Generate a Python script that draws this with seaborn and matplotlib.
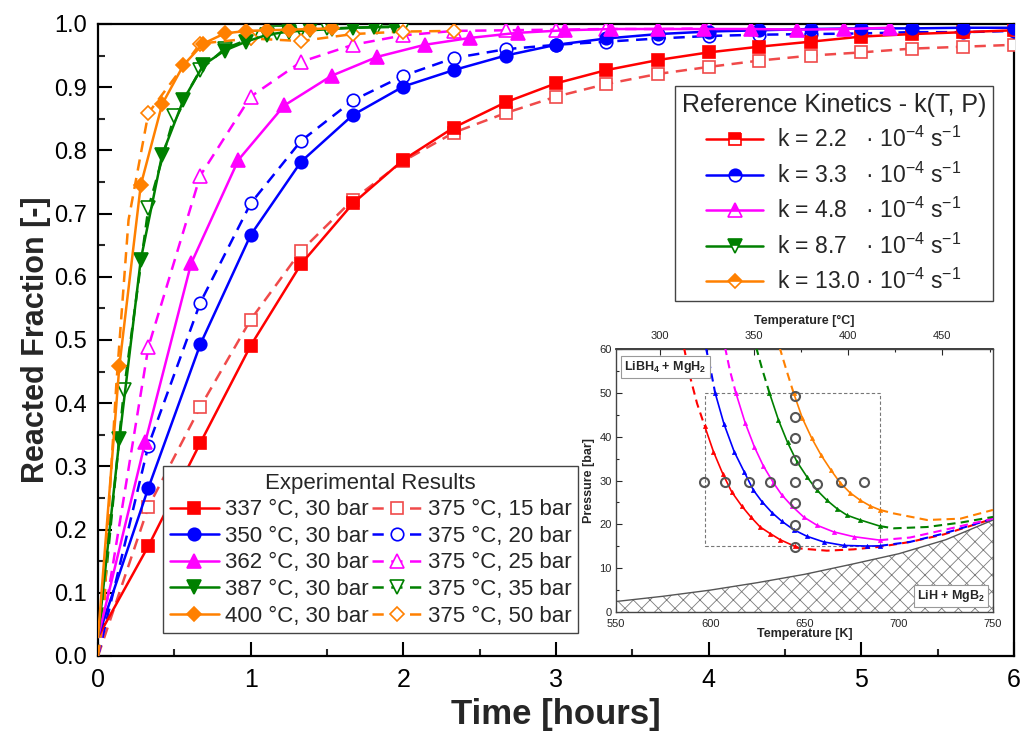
import matplotlib
matplotlib.use("Agg")
import matplotlib.pyplot as plt
import seaborn as sns
from matplotlib.lines import Line2D
from matplotlib.patches import Rectangle
from matplotlib.ticker import MultipleLocator, FixedLocator

# ---------------- data: main panel (time [h], reacted fraction) ----------------
t_thirds = [0.0, 0.33, 0.67, 1.0, 1.33, 1.67, 2.0, 2.33, 2.67, 3.0, 3.33, 3.67,
            4.0, 4.33, 4.67, 5.0, 5.33, 5.67, 6.0]
f_337 = [0.03, 0.174, 0.337, 0.491, 0.620, 0.716, 0.785, 0.836, 0.876, 0.906, 0.927,
         0.943, 0.955, 0.964, 0.972, 0.980, 0.984, 0.987, 0.990]
f_350 = [0.03, 0.266, 0.493, 0.666, 0.782, 0.856, 0.901, 0.927, 0.950, 0.967, 0.977,
         0.984, 0.988, 0.990, 0.992, 0.993, 0.993, 0.994, 0.994]
t_362 = [0.0, 0.31, 0.61, 0.92, 1.22, 1.53, 1.83, 2.14, 2.44, 2.75, 3.06, 3.36, 3.67,
         3.97, 4.28, 4.58, 4.89, 5.19]
f_362 = [0.03, 0.339, 0.621, 0.785, 0.871, 0.918, 0.948, 0.967, 0.978, 0.986, 0.990,
         0.992, 0.992, 0.992, 0.992, 0.991, 0.992, 0.994]
t_387 = [0.0, 0.14, 0.28, 0.42, 0.56, 0.69, 0.83, 0.97, 1.11, 1.25, 1.39, 1.53, 1.67,
         1.81, 1.94]
f_387 = [0.03, 0.343, 0.627, 0.793, 0.880, 0.935, 0.958, 0.972, 0.983, 0.988, 0.990,
         0.992, 0.994, 0.995, 0.996]
t_400 = [0.0, 0.14, 0.28, 0.42, 0.56, 0.69, 0.83, 0.97, 1.11, 1.25, 1.39, 1.53]
f_400 = [0.03, 0.459, 0.745, 0.873, 0.935, 0.969, 0.985, 0.989, 0.990, 0.991, 0.992, 0.993]

f_15 = [0.0, 0.236, 0.394, 0.532, 0.641, 0.722, 0.783, 0.828, 0.859, 0.885, 0.905,
        0.921, 0.932, 0.942, 0.950, 0.955, 0.961, 0.964, 0.967]
f_20 = [0.0, 0.333, 0.559, 0.716, 0.815, 0.879, 0.918, 0.946, 0.960, 0.967, 0.972,
        0.977, 0.981, 0.983, 0.984, 0.985, 0.987, 0.987, 0.989]
t_25 = [0.0, 0.33, 0.67, 1.0, 1.33, 1.67, 2.0, 2.33, 2.67, 3.0, 3.33, 3.67, 4.0]
f_25 = [0.0, 0.489, 0.760, 0.885, 0.940, 0.967, 0.982, 0.989, 0.990, 0.991, 0.992,
        0.992, 0.993]
t_35 = [0.0, 0.17, 0.33, 0.5, 0.67, 0.83, 1.0, 1.17, 1.33, 1.5, 1.67, 1.83, 2.0]
f_35 = [0.0, 0.421, 0.709, 0.855, 0.927, 0.961, 0.977, 0.985, 0.990, 0.993, 0.994,
        0.995, 0.995]
t_50 = [0.0, 0.04, 0.08, 0.12, 0.2, 0.33, 0.67, 1.0, 1.33, 1.67, 2.0, 2.33]
f_50 = [0.0, 0.07, 0.27, 0.43, 0.69, 0.859, 0.969, 0.977, 0.973, 0.984, 0.988, 0.989]

solid_labels = ["337 °C, 30 bar", "350 °C, 30 bar", "362 °C, 30 bar",
                "387 °C, 30 bar", "400 °C, 30 bar"]
dashed_labels = ["375 °C, 15 bar", "375 °C, 20 bar", "375 °C, 25 bar",
                 "375 °C, 35 bar", "375 °C, 50 bar"]
k_values = [2.2, 3.3, 4.8, 8.7, 13.0]

# ---------------- data: inset (T [K], p [bar]) ----------------
eq_T = [550, 575, 600, 625, 650, 675, 700, 725, 750]
eq_P = [2.4, 3.6, 5.0, 6.7, 8.6, 10.9, 13.3, 16.5, 21.0]

red_T = [586.0, 589.3, 593.0, 597.0, 601.7, 606.6, 611.4, 616.7, 621.5, 626.5, 631.8,
         637.1, 644.8, 647.7, 661.9, 676.0, 690.2, 706.1, 723.8, 750.0]
red_P = [60.5, 53.7, 47.6, 42.5, 36.6, 31.6, 27.4, 24.2, 21.7, 19.4, 17.9, 16.5, 15.0,
         14.5, 14.0, 14.3, 14.9, 16.0, 17.7, 21.3]
blue_T = [597.6, 600.0, 602.6, 607.3, 612.7, 618.0, 622.9, 627.4, 632.7, 638.0, 644.2,
          651.2, 660.1, 670.7, 683.1, 690.0, 706.0, 723.8, 750.0]
blue_P = [60.5, 55.8, 50.0, 42.9, 36.6, 32.0, 27.8, 25.2, 22.7, 20.7, 18.8, 17.3, 16.0,
          15.2, 15.05, 15.1, 16.0, 17.9, 21.3]
mag_T = [607.8, 610.5, 613.6, 618.5, 623.4, 628.2, 633.5, 638.0, 643.3, 649.5, 656.6,
         665.4, 676.0, 690.0, 706.0, 723.8, 750.0]
mag_P = [60.5, 55.0, 50.0, 43.2, 37.7, 33.3, 29.5, 26.7, 24.2, 21.7, 19.8, 18.3, 17.2,
         16.4, 17.0, 18.7, 21.3]
grn_T = [624.3, 627.5, 631.4, 636.2, 641.0, 646.0, 651.2, 656.6, 661.9, 667.2, 672.5,
         679.6, 690.0, 697.3, 715.0, 732.7, 750.0]
grn_P = [60.5, 55.5, 50.0, 43.8, 38.7, 34.3, 30.9, 27.8, 25.5, 23.6, 22.1, 21.0, 19.6,
         19.1, 19.4, 20.4, 21.7]
org_T = [636.7, 640.2, 644.2, 648.9, 653.9, 658.8, 664.0, 668.9, 674.2, 679.6, 684.9,
         690.0, 697.3, 715.0, 732.7, 750.0]
org_P = [60.5, 55.5, 50.0, 44.2, 39.6, 35.8, 32.4, 29.5, 27.2, 25.5, 24.2, 23.3, 22.5,
         21.0, 21.3, 23.3]

cond_T = [596.7, 607.9, 620.3, 631.8, 645.1, 656.6, 669.4, 681.4,
          645.1, 645.1, 645.1, 645.1, 645.1, 645.1, 645.1]
cond_P = [29.6, 29.6, 29.6, 29.6, 29.7, 29.2, 29.7, 29.6,
          49.4, 44.4, 39.6, 34.7, 24.9, 19.8, 14.9]
rect_T = [597, 690]
rect_P = [15, 50]
celsius_ticks = [300, 350, 400, 450]
celsius_minor = [300, 325, 350, 375, 400, 425, 450, 475]

# ---------------- style ----------------
sns.set_theme(style="ticks")
plt.rcParams['font.family'] = ['Liberation Sans', 'DejaVu Sans']
plt.rcParams['mathtext.fontset'] = 'custom'
plt.rcParams['mathtext.rm'] = 'Liberation Sans'
plt.rcParams['mathtext.it'] = 'Liberation Sans:italic'
plt.rcParams['mathtext.bf'] = 'Liberation Sans:bold'
plt.rcParams['hatch.linewidth'] = 0.6

RED, RED_D = "#ff0000", "#f04a4a"
BLUE, MAG, GRN, ORG = "#0000ff", "#ff00ff", "#008000", "#ff8000"
DASH = (0, (4.5, 3))

fig = plt.figure(figsize=(10.21, 7.35), dpi=100)
ax = fig.add_axes([0.096, 0.1075, 0.897, 0.8599])

solid = [
    (t_thirds, f_337, 1, RED, 's', 8.5),
    (t_thirds, f_350, 1, BLUE, 'o', 9.0),
    (t_362, f_362, 1, MAG, '^', 10.0),
    (t_387, f_387, 1, GRN, 'v', 10.0),
    (t_400, f_400, 1, ORG, 'D', 7.5),
]
dashed = [
    (t_thirds, f_15, 1, RED_D, 's', 8.5),
    (t_thirds, f_20, 1, BLUE, 'o', 9.0),
    (t_25, f_25, 1, MAG, '^', 10.0),
    (t_35, f_35, 1, GRN, 'v', 10.0),
    (t_50, f_50, 5, ORG, 'D', 7.5),
]

for t, f, m0, col, mk, ms in dashed:
    sns.lineplot(x=t, y=f, ax=ax, color=col, linestyle=DASH, linewidth=1.8,
                 marker=mk, markersize=ms, markevery=list(range(m0, len(t))),
                 markerfacecolor='white', markeredgecolor=col, markeredgewidth=1.2,
                 estimator=None, sort=False, legend=False, zorder=3)
for t, f, m0, col, mk, ms in solid:
    sns.lineplot(x=t, y=f, ax=ax, color=col, linestyle='-', linewidth=1.8,
                 marker=mk, markersize=ms, markevery=list(range(m0, len(t))),
                 markerfacecolor=col, markeredgecolor=col, markeredgewidth=1.2,
                 estimator=None, sort=False, legend=False, zorder=4)

ax.set_xlim(0, 6)
ax.set_ylim(0, 1.0)
ax.xaxis.set_major_locator(MultipleLocator(1))
ax.xaxis.set_minor_locator(MultipleLocator(0.5))
ax.yaxis.set_major_locator(MultipleLocator(0.1))
ax.yaxis.set_minor_locator(MultipleLocator(0.05))
ax.yaxis.set_major_formatter(matplotlib.ticker.FormatStrFormatter('%.1f'))
ax.tick_params(which='major', direction='in', length=10, width=1.5, labelsize=18,
               pad=9, colors='black')
ax.tick_params(which='minor', direction='in', length=5, width=1.5)
ax.tick_params(axis='y', labelsize=17, pad=8)
for s in ax.spines.values():
    s.set_linewidth(1.6)
    s.set_color('black')
ax.set_xlabel("Time [hours]", fontsize=25, fontweight='bold', labelpad=4)
ax.set_ylabel("Reacted Fraction [-]", fontsize=22, fontweight='bold', labelpad=2)

# legend 1: experimental results
h1 = [Line2D([], [], color=c, ls='-', lw=1.8, marker=m, ms=s, mfc=c, mec=c, mew=1.2)
      for _, _, _, c, m, s in solid]
h2 = [Line2D([], [], color=c, ls=DASH, lw=1.8, marker=m, ms=s, mfc='white', mec=c,
             mew=1.2) for _, _, _, c, m, s in dashed]
leg1 = ax.legend(h1 + h2, solid_labels + dashed_labels, ncol=2, loc='lower left',
                 bbox_to_anchor=(0.071, 0.036), borderaxespad=0,
                 title="Experimental Results", fontsize=16, title_fontsize=16,
                 frameon=True, fancybox=False, edgecolor='#444444', framealpha=1,
                 handlelength=2.2, handletextpad=0.3, columnspacing=0.15,
                 labelspacing=0.25, borderpad=0.3)
leg1.get_frame().set_linewidth(1.0)
ax.add_artist(leg1)

# legend 2: reference kinetics
kin_cols = [RED, BLUE, MAG, GRN, ORG]
kin_mk = [('s', 8.5), ('o', 9.0), ('^', 10.0), ('v', 10.0), ('D', 7.5)]
h3 = [Line2D([], [], color=c, ls='-', lw=1.8, marker=m, ms=s, mfc=c, mec=c, mew=1.2,
             fillstyle='top', markerfacecoloralt='white')
      for c, (m, s) in zip(kin_cols, kin_mk)]
kin_labels = []
for k in k_values:
    num = f"{k:.1f}"
    kin_labels.append(f"k = {num}" + " " * (1 + 2 * (4 - len(num)))
                      + "· 10$^{-4}$ s$^{-1}$")
leg2 = ax.legend(h3, kin_labels, loc='upper right', bbox_to_anchor=(0.977, 0.902),
                 borderaxespad=0, title="Reference Kinetics - k(T, P)", fontsize=16.5,
                 title_fontsize=18, frameon=True, fancybox=False,
                 edgecolor='#444444', framealpha=1, handlelength=2.5,
                 handletextpad=0.6, labelspacing=0.45, borderpad=0.3)
leg2.get_frame().set_linewidth(1.0)

# ---------------- inset ----------------
axin = fig.add_axes([0.6033, 0.1673, 0.3693, 0.3578])
axin.set_facecolor('white')
axin.fill_between(eq_T, 0, eq_P, facecolor='white', edgecolor='#7a7a7a', hatch='xx',
                  linewidth=0, zorder=1)
sns.lineplot(x=eq_T, y=eq_P, ax=axin, color='#555555', linewidth=1.0,
             estimator=None, sort=False, legend=False, zorder=2)
axin.add_patch(Rectangle((rect_T[0], rect_P[0]), rect_T[1] - rect_T[0],
                         rect_P[1] - rect_P[0], fill=False, edgecolor='#777777',
                         linestyle=(0, (3, 2)), linewidth=0.8, zorder=2))


def inside(T, P):
    return (rect_T[0] - 1e-6 <= T <= rect_T[1] + 1e-6) and \
           (rect_P[0] - 1e-6 <= P <= rect_P[1] + 1e-6)


for T, P, col in [(red_T, red_P, RED), (blue_T, blue_P, BLUE), (mag_T, mag_P, MAG),
                  (grn_T, grn_P, GRN), (org_T, org_P, ORG)]:
    idx = [i for i in range(len(T)) if inside(T[i], P[i])]
    a, b = idx[0], idx[-1]
    sns.lineplot(x=T[:a + 1], y=P[:a + 1], ax=axin, color=col, linewidth=1.5,
                 linestyle=(0, (4, 2.5)), estimator=None, sort=False, legend=False,
                 zorder=3)
    sns.lineplot(x=T[b:], y=P[b:], ax=axin, color=col, linewidth=1.5,
                 linestyle=(0, (4, 2.5)), estimator=None, sort=False, legend=False,
                 zorder=3)
    sns.lineplot(x=T[a:b + 1], y=P[a:b + 1], ax=axin, color=col, linewidth=1.2,
                 marker='^', markersize=3, markerfacecolor=col, markeredgecolor=col,
                 markeredgewidth=0.5, estimator=None, sort=False, legend=False,
                 zorder=3)

axin.plot(cond_T, cond_P, linestyle='none', marker='o', ms=6.5, mfc='none',
          mec='#555555', mew=1.5, zorder=4)

axin.set_xlim(550, 750)
axin.set_ylim(0, 60)
axin.xaxis.set_major_locator(MultipleLocator(50))
axin.xaxis.set_minor_locator(MultipleLocator(25))
axin.yaxis.set_major_locator(MultipleLocator(10))
axin.yaxis.set_minor_locator(MultipleLocator(5))
axin.tick_params(which='both', direction='in', labelsize=8, width=0.8)
axin.tick_params(axis='x', pad=5)
axin.tick_params(axis='y', pad=3)
axin.tick_params(which='major', length=4)
axin.tick_params(which='minor', length=2)
for s in axin.spines.values():
    s.set_linewidth(1.0)
    s.set_color('#444444')
axin.set_xlabel("Temperature [K]", fontsize=9, fontweight='bold', labelpad=-1)
axin.set_ylabel("Pressure [bar]", fontsize=9, fontweight='bold', labelpad=3)

sec = axin.secondary_xaxis('top', functions=(lambda K: K - 273.15,
                                             lambda C: C + 273.15))
sec.xaxis.set_major_locator(FixedLocator(celsius_ticks))
sec.xaxis.set_minor_locator(FixedLocator(celsius_minor))
sec.tick_params(which='both', direction='in', labelsize=8, width=0.8, pad=6)
sec.tick_params(which='major', length=4)
sec.tick_params(which='minor', length=2)
sec.set_xlabel("Temperature [°C]", fontsize=9, fontweight='bold', labelpad=5)

axin.text(0.022, 0.932, r"LiBH$_\mathbf{4}$ + MgH$_\mathbf{2}$", transform=axin.transAxes,
          fontsize=9, fontweight='bold', ha='left', va='center', zorder=6,
          bbox=dict(boxstyle='square,pad=0.25', fc='white', ec='#999999', lw=0.8))
axin.text(0.978, 0.06, r"LiH + MgB$_\mathbf{2}$", transform=axin.transAxes,
          fontsize=9, fontweight='bold', ha='right', va='center', zorder=6,
          bbox=dict(boxstyle='square,pad=0.25', fc='white', ec='#999999', lw=0.8))

fig.savefig("out.png", dpi=100)
